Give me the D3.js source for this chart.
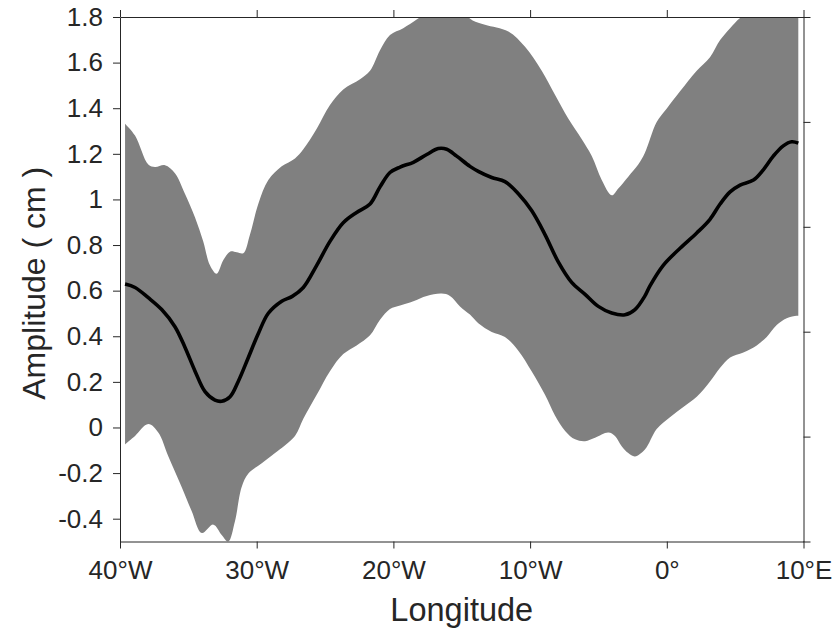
<!DOCTYPE html>
<html>
<head>
<meta charset="utf-8">
<script src="https://cdn.jsdelivr.net/npm/d3@7"></script>
<style>
  body { margin: 0; background: #fff; }
  svg { font-family: "Liberation Sans", Arial, Helvetica, sans-serif; }
  .axis path, .axis line { stroke: #262626; stroke-width: 1; }
  .axis text { fill: #262626; font-size: 26px; }
</style>
</head>
<body>
<div id="chart"></div>
<script>
// upper bound of the shaded band (lon, amplitude in cm)
const upperLon = [-39.63, -38.9, -37.93, -37.44, -36.71, -35.98, -35.25, -34.51, -33.91, -33.42,
  -32.93, -32.44, -31.95, -31.46, -30.98, -30.49, -29.88, -29.15, -28.17, -27.2, -26.59, -25.61,
  -24.64, -23.67, -22.44, -21.71, -20.98, -20.25, -19.28, -18.3, -17.5, -16.5, -15.5, -14.76,
  -14.2, -13.3, -11.59, -10.37, -9.15, -8.18, -7.21, -6.23, -5.49, -4.76, -4.03, -3.55, -2.82,
  -2.09, -1.6, -0.74, 0, 0.97, 2.19, 3.16, 3.9, 4.63, 5.36, 6.3, 7.3, 8.4, 9.62];
const upperAmp = [1.332, 1.28, 1.153, 1.142, 1.15, 1.115, 1.025, 0.921, 0.816, 0.711,
  0.674, 0.734, 0.771, 0.768, 0.764, 0.846, 0.981, 1.085, 1.145, 1.18, 1.22, 1.31,
  1.414, 1.482, 1.527, 1.564, 1.654, 1.721, 1.751, 1.789, 1.82, 1.85, 1.84, 1.81,
  1.785, 1.766, 1.736, 1.669, 1.564, 1.459, 1.355, 1.265, 1.19, 1.085, 1.018, 1.048, 1.1,
  1.153, 1.205, 1.34, 1.399, 1.474, 1.564, 1.624, 1.699, 1.751, 1.796, 1.83, 1.87, 1.9, 1.92];

// lower bound of the shaded band
const lowerLon = [-39.63, -38.9, -37.93, -37.2, -36.46, -35.49, -34.76, -34.02, -33.17, -32.56,
  -32.08, -31.59, -31.1, -30.61, -29.63, -28.66, -27.2, -26.59, -25.61, -24.64, -23.67, -22.69,
  -21.71, -20.98, -20.25, -19.51, -18.54, -17.56, -16.47, -15.86, -15.13, -14.4, -13.79, -12.81,
  -11.84, -10.86, -9.89, -8.91, -8.18, -7.44, -6.71, -5.98, -5.25, -4.28, -3.79, -3.3, -2.82,
  -2.33, -1.6, -0.74, 0.23, 1.21, 2.19, 3.16, 3.9, 4.63, 5.6, 6.58, 7.31, 8.04, 8.77, 9.5, 9.62];
const lowerAmp = [-0.074, -0.037, 0.015, -0.022, -0.127, -0.261, -0.366, -0.463, -0.426, -0.471,
  -0.5, -0.411, -0.261, -0.202, -0.157, -0.112, -0.037, 0.038, 0.143, 0.247, 0.322, 0.36,
  0.404, 0.472, 0.52, 0.535, 0.554, 0.577, 0.587, 0.577, 0.531, 0.495, 0.457, 0.419,
  0.397, 0.337, 0.247, 0.143, 0.053, -0.015, -0.052, -0.06, -0.045, -0.022, -0.037, -0.082, -0.112,
  -0.127, -0.097, -0.007, 0.045, 0.09, 0.135, 0.202, 0.262, 0.307, 0.329, 0.36, 0.397, 0.449, 0.479, 0.49, 0.49];

// mean amplitude (black line)
const meanLon = [-39.63, -38.9, -37.93, -36.95, -35.98, -35.25, -34.51, -33.78, -33.05, -32.56,
  -31.95, -31.35, -30.61, -29.88, -29.15, -28.17, -27.4, -26.59, -25.61, -24.64, -23.67, -22.69,
  -21.71, -20.98, -20.25, -19.51, -18.54, -17.56, -16.72, -16.1, -15.37, -14.4, -13.79, -12.81,
  -11.84, -10.86, -9.89, -8.91, -7.94, -6.96, -5.98, -5.01, -4.03, -3.06, -2.33, -1.6, -1.23,
  -0.26, 0.97, 2.19, 3.16, 3.9, 4.63, 5.36, 6.34, 7.06, 7.79, 8.52, 9.14, 9.62];
const meanAmp = [0.629, 0.614, 0.569, 0.517, 0.442, 0.352, 0.247, 0.157, 0.12, 0.115,
  0.135, 0.202, 0.307, 0.412, 0.501, 0.554, 0.575, 0.614, 0.711, 0.816, 0.898, 0.943,
  0.98, 1.055, 1.118, 1.142, 1.163, 1.197, 1.223, 1.22, 1.19, 1.145, 1.123, 1.096,
  1.078, 1.025, 0.951, 0.846, 0.726, 0.636, 0.584, 0.531, 0.502, 0.494, 0.517, 0.577, 0.621,
  0.711, 0.786, 0.853, 0.913, 0.98, 1.033, 1.063, 1.085, 1.13, 1.19, 1.235, 1.253, 1.247];

const xTicks = [-40, -30, -20, -10, 0, 10];
const xTickLabels = ["40°W", "30°W", "20°W", "10°W", "0°", "10°E"];
const yTicks = [-0.4, -0.2, 0, 0.2, 0.4, 0.6, 0.8, 1, 1.2, 1.4, 1.6, 1.8];

const W = 833, H = 633;
const x0 = 120, x1 = 803.5, y0 = 541.5, y1 = 17;

const svg = d3.select("#chart").append("svg")
  .attr("width", W)
  .attr("height", H);

const x = d3.scaleLinear().domain([-40, 10]).range([x0, x1]);
const y = d3.scaleLinear().domain([-0.5, 1.8]).range([y0, y1]);

svg.append("clipPath").attr("id", "plot-clip")
  .append("rect")
    .attr("x", x0).attr("y", y1)
    .attr("width", x1 - x0).attr("height", y0 - y1);

const pts = (lon, amp) => lon.map((d, i) => [x(d), y(amp[i])]);
const line = d3.line().curve(d3.curveCatmullRom.alpha(0.5));

const g = svg.append("g").attr("clip-path", "url(#plot-clip)");

// shaded band: upper edge left to right, then lower edge back
const bandPath = line(pts(upperLon, upperAmp)) +
  line(pts(lowerLon, lowerAmp).reverse()).replace(/^M/, "L") + "Z";

g.append("path")
  .attr("d", bandPath)
  .attr("fill", "#808080");

g.append("path")
  .attr("d", line(pts(meanLon, meanAmp)))
  .attr("fill", "none")
  .attr("stroke", "#000")
  .attr("stroke-width", 3.6)
  .attr("stroke-linejoin", "round");

// axes: box with outward ticks
const fmt = d => String(+d.toFixed(1));

svg.append("g").attr("class", "axis")
  .attr("transform", `translate(0,${y0})`)
  .call(d3.axisBottom(x).tickValues(xTicks).tickSize(7).tickSizeOuter(0).tickPadding(12)
    .tickFormat((d, i) => xTickLabels[i]));

svg.append("g").attr("class", "axis")
  .attr("transform", `translate(0,${y1})`)
  .call(d3.axisTop(x).tickValues(xTicks).tickSize(7).tickSizeOuter(0).tickFormat(""));

svg.append("g").attr("class", "axis")
  .attr("transform", `translate(${x0},0)`)
  .call(d3.axisLeft(y).tickValues(yTicks).tickSize(7).tickSizeOuter(0).tickPadding(10)
    .tickFormat(fmt));

const yRight = d3.scaleLinear().domain([0, 1]).range([y0, y1]);
svg.append("g").attr("class", "axis")
  .attr("transform", `translate(${x1},0)`)
  .call(d3.axisRight(yRight).tickValues([0, 0.2, 0.4, 0.6, 0.8, 1]).tickSize(7).tickSizeOuter(0)
    .tickFormat(""));

// axis titles
svg.append("text")
  .attr("x", (x0 + x1) / 2)
  .attr("y", 621)
  .attr("text-anchor", "middle")
  .attr("font-size", 32.5)
  .attr("fill", "#262626")
  .text("Longitude");

svg.append("text")
  .attr("transform", `translate(45,${(y0 + y1) / 2 + 4}) rotate(-90)`)
  .attr("text-anchor", "middle")
  .attr("font-size", 32)
  .attr("fill", "#262626")
  .text("Amplitude ( cm )");
</script>
</body>
</html>
